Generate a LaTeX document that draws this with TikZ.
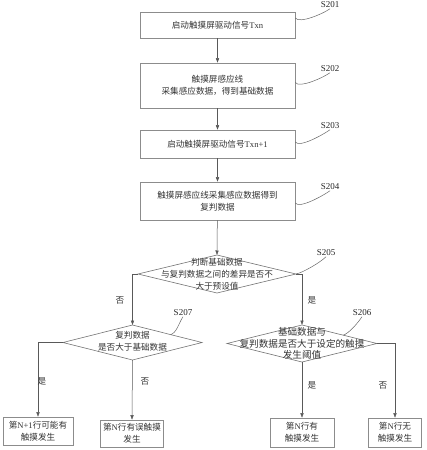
\documentclass[tikz,border=0pt]{standalone}
\usepackage{fontspec}
\setmainfont{Liberation Serif}
\newfontfamily\cjk{Noto Sans CJK SC}
\usetikzlibrary{arrows.meta,calc}
\newcommand\cjkfs{\cjk\fontsize{8.6}{12}\selectfont}
\tikzset{
 box/.style={draw=black!45, line width=0.6pt, minimum width=155pt, align=center, inner sep=1pt, font=\cjkfs, text=black!80},
 bbox/.style={box, minimum width=60pt},
 dshape/.style={draw=black!55, line width=0.6pt},
 dtext/.style={align=center, inner sep=0pt, font=\cjkfs, text=black!80},
 lab/.style={inner sep=0.5pt, font=\fontsize{9}{10}\selectfont, text=black!85},
 leader/.style={draw=black!60, line width=0.5pt},
 arr/.style={draw=black!65, line width=0.5pt, -{Triangle[length=4.5pt,width=3.2pt]}},
 yn/.style={inner sep=0pt, font=\cjkfs, text=black!80}
}
\begin{document}
\begin{tikzpicture}[x=1pt,y=-1pt]
\useasboundingbox (0,0) rectangle (427,450);
% main column boxes
\node[box,minimum height=26pt] (s201) at (217.5,25) {启动触摸屏驱动信号{\rmfamily Txn}};
\node[box,minimum height=45pt] (s202) at (217.5,85.5) {触摸屏感应线\\采集感应数据，得到基础数据};
\node[box,minimum height=28pt] (s203) at (217.5,144) {启动触摸屏驱动信号{\rmfamily Txn+1}};
\node[box,minimum height=38pt] (s204) at (217.5,201) {触摸屏感应线采集感应数据得到\\复判数据};
% diamonds
\coordinate (d5t) at (217,255); \coordinate (d5b) at (217,293);
\coordinate (d5l) at (138,274); \coordinate (d5r) at (296,274);
\coordinate (d6t) at (302,325); \coordinate (d6b) at (302,362);
\coordinate (d6l) at (227,343.5); \coordinate (d6r) at (377,343.5);
\coordinate (d7t) at (132.5,325); \coordinate (d7b) at (132.5,360);
\coordinate (d7l) at (63,342.5); \coordinate (d7r) at (202,342.5);
\draw[dshape] (d5t) -- (d5r) -- (d5b) -- (d5l) -- cycle;
\draw[dshape] (d6t) -- (d6r) -- (d6b) -- (d6l) -- cycle;
\draw[dshape] (d7t) -- (d7r) -- (d7b) -- (d7l) -- cycle;
\node[dtext] (t5) at (217,274) {判断基础数据\\与复判数据之间的差异是否不\\大于预设值};
\node[dtext,font=\cjk\fontsize{9.6}{11.5}\selectfont] (t6) at (302,343.5) {基础数据与\\复判数据是否大于设定的触摸\\发生阈值};
\node[dtext] (t7) at (132.5,341) {复判数据\\是否大于基础数据};
% bottom boxes
\node[bbox,minimum width=70pt,minimum height=28pt] (b1) at (38,431) {第{\rmfamily N+1}行可能有\\触摸发生};
\node[bbox,minimum width=63pt,minimum height=27pt] (b2) at (132,433.5) {第{\rmfamily N}行有误触摸\\发生};
\node[bbox,minimum width=64pt,minimum height=29pt] (b3) at (302,432.5) {第{\rmfamily N}行有\\触摸发生};
\node[bbox,minimum width=53pt,minimum height=29pt] (b4) at (395,432.5) {第{\rmfamily N}行无\\触摸发生};
% step labels
\node[lab] (l201) at (330,5) {S201};
\node[lab] (l202) at (330,69) {S202};
\node[lab] (l203) at (330,126) {S203};
\node[lab] (l204) at (330,187) {S204};
\node[lab] (l205) at (326,253) {S205};
\node[lab] (l206) at (362,313) {S206};
\node[lab] (l207) at (183,313) {S207};
\draw[leader] ([yshift=7pt]s201.east) .. controls +(4,6) and +(-7,5) .. (l201.south);
\draw[leader] ([yshift=3pt]s202.east) .. controls +(4,6) and +(-7,5) .. (l202.south);
\draw[leader] ([yshift=2pt]s203.east) .. controls +(4,6) and +(-7,5) .. (l203.south);
\draw[leader] ([yshift=-2pt]s204.east) .. controls +(4,6) and +(-7,5) .. (l204.south);
\draw[leader] (d5r) .. controls +(6,-1) and +(-6,6) .. (l205.south);
\draw[leader] ($(d6t)!0.55!(d6r)$) .. controls +(6,-2) and +(-4,6) .. (l206.south);
\draw[leader] ($(d7t)!0.55!(d7r)$) .. controls +(6,-2) and +(-4,6) .. (l207.south);
% connectors
\draw[arr] (s201) -- (s202);
\draw[arr] (s202) -- (s203);
\draw[arr] (s203) -- (s204);
\draw[arr] (s204) -- (d5t);
\draw[arr] (d5l) -| (d7t);
\draw[arr] (d5r) -| (d6t);
\draw[arr] (d7l) -| (b1.north);
\draw[arr] (d7b) -- (b2.north);
\draw[arr] (d6b) -- (b3.north);
\draw[arr] (d6r) -| (b4.north);
% branch labels
\node[yn] (n1) at (120,300) {否};
\node[yn] (n2) at (312,300) {是};
\node[yn] (n3) at (42,381) {是};
\node[yn] (n4) at (145,381) {否};
\node[yn] (n5) at (312,385) {是};
\node[yn] (n6) at (383,385) {否};
\end{tikzpicture}
\end{document}
